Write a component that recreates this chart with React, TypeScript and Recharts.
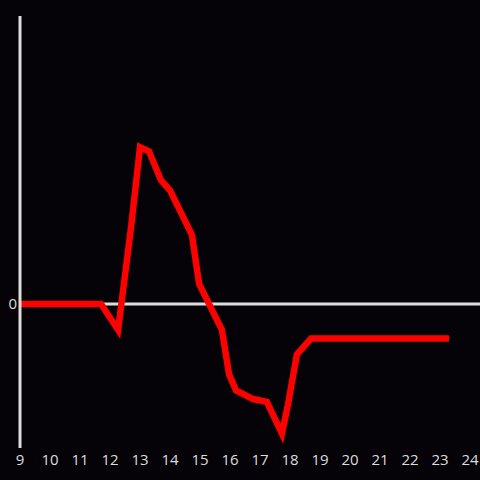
import React from "react";
import { LineChart, Line, XAxis, YAxis, ReferenceLine } from "recharts";

const xValues = [9, 11.7, 12.27, 12.7, 13.0, 13.3, 13.7, 14.0, 14.73, 14.97, 15.73, 15.97, 16.2, 16.77, 17.23, 17.73, 17.93, 18.23, 18.7, 23.3];
const yValues = [0, 0, -0.18, 0.53, 1.09, 1.06, 0.86, 0.79, 0.48, 0.14, -0.18, -0.49, -0.6, -0.66, -0.68, -0.9, -0.7, -0.35, -0.24, -0.24];
const xTicks = [9, 10, 11, 12, 13, 14, 15, 16, 17, 18, 19, 20, 21, 22, 23, 24];
const yTicks = [0];

const data = xValues.map((x, i) => ({ x, y: yValues[i] }));

export default function App() {
  return (
    <div style={{ position: "fixed", left: 0, top: 0, width: 480, height: 480, background: "#050308" }}>
      <LineChart width={480} height={480} data={data} margin={{ top: 16, right: 0, left: 0, bottom: 0 }}>
        <XAxis
          dataKey="x"
          type="number"
          domain={[9, 24.333]}
          ticks={xTicks}
          axisLine={false}
          tickLine={false}
          height={32}
          tickSize={4}
          tickMargin={2}
          tick={{ fill: "#dddddd", fontSize: 15, fontFamily: "Open Sans" }}
          allowDataOverflow
        />
        <YAxis
          type="number"
          domain={[-1, 2]}
          ticks={yTicks}
          width={20}
          axisLine={{ stroke: "#dddddd", strokeWidth: 3 }}
          tickLine={false}
          tickSize={3}
          tickMargin={0}
          tick={{ fill: "#dddddd", fontSize: 15, fontFamily: "Open Sans" }}
        />
        <ReferenceLine y={0} stroke="#dddddd" strokeWidth={3} />
        <Line
          dataKey="y"
          stroke="#ff0000"
          strokeWidth={6.5}
          dot={false}
          type="linear"
          isAnimationActive={false}
        />
      </LineChart>
    </div>
  );
}
